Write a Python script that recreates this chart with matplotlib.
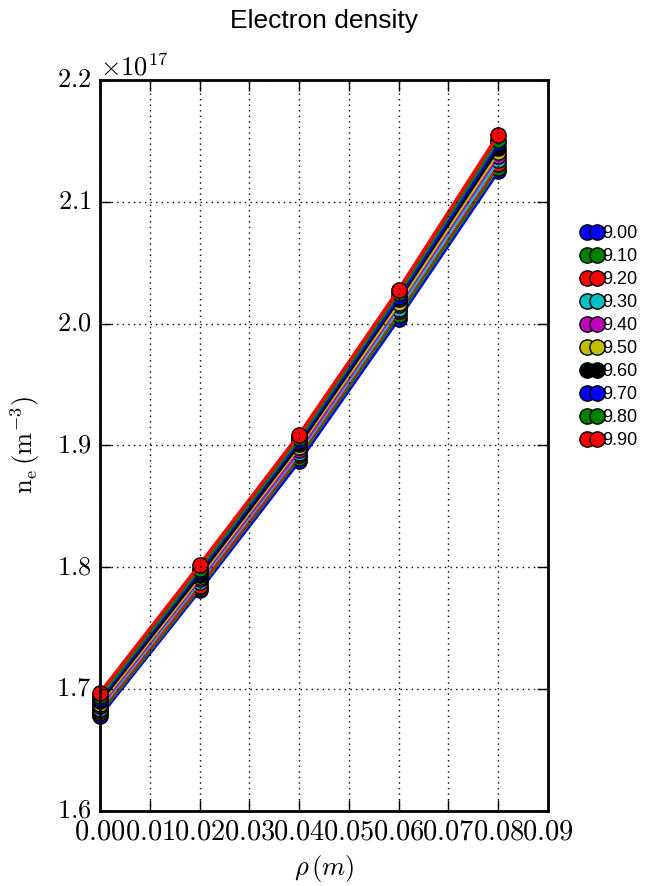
import numpy as np
import matplotlib
matplotlib.use("Agg")
import matplotlib.pyplot as plt

plt.style.use("classic")
plt.rcParams["font.family"] = ["cmr10", "DejaVu Serif"]
plt.rcParams["mathtext.fontset"] = "cm"
plt.rcParams["axes.formatter.use_mathtext"] = True

# radius (m)
rho = [0.00, 0.02, 0.04, 0.06, 0.08]

# electron density in units of 1e17 m^-3, one list per case
ne_900 = [1.678, 1.781, 1.887, 2.004, 2.125]
ne_910 = [1.680, 1.783, 1.890, 2.007, 2.128]
ne_920 = [1.682, 1.785, 1.892, 2.010, 2.131]
ne_930 = [1.684, 1.788, 1.894, 2.012, 2.134]
ne_940 = [1.686, 1.790, 1.896, 2.015, 2.138]
ne_950 = [1.688, 1.792, 1.899, 2.017, 2.141]
ne_960 = [1.690, 1.794, 1.901, 2.020, 2.144]
ne_970 = [1.692, 1.797, 1.904, 2.022, 2.148]
ne_980 = [1.694, 1.799, 1.906, 2.025, 2.151]
ne_990 = [1.697, 1.802, 1.909, 2.028, 2.155]

labels = ["9.00", "9.10", "9.20", "9.30", "9.40",
          "9.50", "9.60", "9.70", "9.80", "9.90"]
series = [ne_900, ne_910, ne_920, ne_930, ne_940,
          ne_950, ne_960, ne_970, ne_980, ne_990]
colors = ["b", "g", "r", "c", "m", "y", "k", "b", "g", "r"]

fig = plt.figure(figsize=(6.52, 8.86), dpi=100, facecolor="white")
ax = fig.add_axes([0.1534, 0.0847, 0.6871, 0.8250])

for lab, vals, col in zip(labels, series, colors):
    ax.plot(rho, np.array(vals) * 1e17, "-o", color=col, lw=2.5,
            ms=11, mec="k", mew=1, label=lab, clip_on=False)

ax.set_xlim(0, 0.09)
ax.set_ylim(1.6e17, 2.2e17)
ax.set_xticks(np.arange(0, 0.0901, 0.01))
ax.set_yticks(np.arange(1.6e17, 2.21e17, 0.1e17))
ax.grid(True, color="k", linestyle=":", linewidth=1)
ax.tick_params(labelsize=19, direction="in", length=8, width=1, pad=6)
ax.tick_params(axis="x", labelsize=20.5)
ax.yaxis.get_offset_text().set_fontsize(19)
for sp in ax.spines.values():
    sp.set_linewidth(2)

ax.set_xlabel(r"$\rho\,(m)$", fontsize=19)
ax.set_ylabel(r"$\mathrm{n_e}\,(\mathrm{m^{-3}})$", fontsize=19, labelpad=10)
ax.set_title("Electron density", fontsize=19, family="Liberation Sans", y=1.062)

ax.legend(loc="center left", bbox_to_anchor=(1.059, 0.648), frameon=False,
          numpoints=2, handlelength=1.15, handletextpad=0.0, labelspacing=0.33,
          borderaxespad=0, prop={"family": "Liberation Sans", "size": 13})

fig.savefig("out.png", dpi=100, facecolor="white")
